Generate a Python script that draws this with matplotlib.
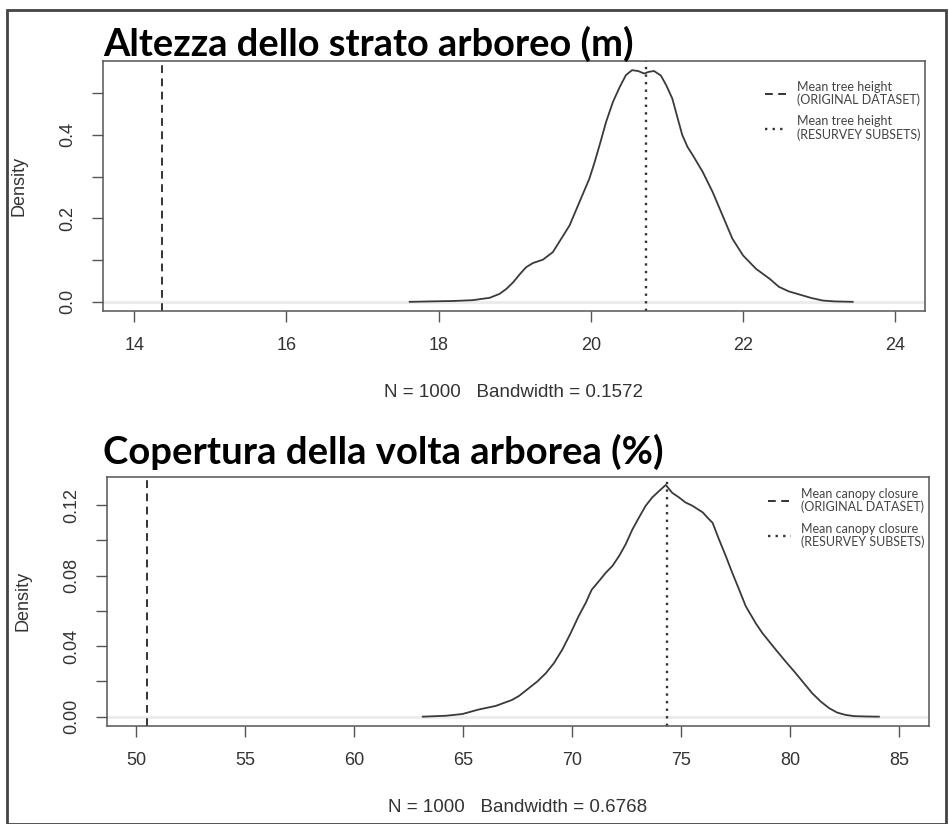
import numpy as np
import matplotlib
matplotlib.use("Agg")
import matplotlib.pyplot as plt
from matplotlib.patches import Rectangle

# ------------------------------------------------------------
# Data (kernel density curves, N = 1000)
# ------------------------------------------------------------

height_x = [17.62, 17.9, 18.2, 18.45, 18.67, 18.8, 18.89, 18.98, 19.07, 19.15,
            19.24, 19.37, 19.5, 19.61, 19.72, 19.85, 19.98, 20.05, 20.12, 20.2,
            20.29, 20.38, 20.46, 20.54, 20.62, 20.7, 20.76, 20.83, 20.92, 20.99,
            21.07, 21.14, 21.2, 21.27, 21.34, 21.47, 21.6, 21.73, 21.86, 22.0,
            22.17, 22.35, 22.47, 22.6, 22.75, 22.9, 23.05, 23.2, 23.44]
height_d = [0.000, 0.001, 0.002, 0.004, 0.0096, 0.019, 0.031, 0.047, 0.067, 0.083,
            0.093, 0.101, 0.119, 0.151, 0.183, 0.239, 0.295, 0.335, 0.379, 0.431,
            0.479, 0.515, 0.543, 0.555, 0.553, 0.547, 0.551, 0.553, 0.542, 0.519,
            0.487, 0.440, 0.400, 0.371, 0.351, 0.311, 0.263, 0.207, 0.151, 0.111,
            0.079, 0.055, 0.036, 0.025, 0.017, 0.009, 0.003, 0.001, 0.000]

canopy_x = [63.15, 64.2, 64.97, 65.7, 66.5, 67.25, 67.57, 68.0, 68.41, 68.8,
            69.17, 69.55, 69.94, 70.3, 70.63, 70.9, 71.24, 71.55, 71.85, 72.15,
            72.46, 72.76, 73.07, 73.38, 73.68, 73.99, 74.3, 74.6, 74.91, 75.2,
            75.52, 76.0, 76.21, 76.45, 76.74, 77.06, 77.35, 77.67, 77.97, 78.43,
            78.73, 79.35, 79.8, 80.26, 80.64, 81.02, 81.41, 81.8, 82.17, 82.55,
            82.94, 83.5, 84.08]
canopy_d = [0.000, 0.0005, 0.0015, 0.004, 0.0061, 0.0095, 0.0118, 0.016, 0.020, 0.0247,
            0.0304, 0.038, 0.0475, 0.057, 0.0646, 0.072, 0.077, 0.0817, 0.0855, 0.091,
            0.0978, 0.106, 0.113, 0.1197, 0.1244, 0.128, 0.1315, 0.127, 0.1244, 0.1216,
            0.1197, 0.1159, 0.113, 0.110, 0.1007, 0.091, 0.0817, 0.072, 0.0627, 0.053,
            0.0475, 0.038, 0.0313, 0.0247, 0.019, 0.0133, 0.0086, 0.0048, 0.0023, 0.001,
            0.0003, 0.0001, 0.000]

height_mean_orig = 14.37
height_mean_resurvey = 20.72
canopy_mean_orig = 50.49
canopy_mean_resurvey = 74.38

titles = ["Altezza dello strato arboreo (m)", "Copertura della volta arborea (%)"]
xlabels = ["N = 1000   Bandwidth = 0.1572", "N = 1000   Bandwidth = 0.6768"]
legend_labels = [
    ["Mean tree height\n(ORIGINAL DATASET)", "Mean tree height\n(RESURVEY SUBSETS)"],
    ["Mean canopy closure\n(ORIGINAL DATASET)", "Mean canopy closure\n(RESURVEY SUBSETS)"],
]

# ------------------------------------------------------------
# Figure (pixel layout, 949 x 824)
# ------------------------------------------------------------

W, H = 949, 824
fig = plt.figure(figsize=(W / 100, H / 100), dpi=100)
fig.patch.set_facecolor("white")

INK = "#333333"
R_FONT = "Liberation Sans"
T_FONT = "Lato"


def px_axes(left, top, right, bottom):
    return fig.add_axes([left / W, 1 - bottom / H, (right - left) / W, (bottom - top) / H])


def draw_panel(ax, xs, ds, m_orig, m_res, xlim, ylim, xticks, ymaj, ymin, yfmt,
               labels, leg_anchor):
    ax.axhline(0, color="#ececec", lw=2.2, zorder=0)
    ax.plot(xs, ds, color="#3a3a3a", lw=1.3, zorder=3)
    l1 = ax.axvline(m_orig, color=INK, lw=1.4, ls=(0, (4, 2.8)), zorder=2)
    l2 = ax.axvline(m_res, color=INK, lw=1.7, ls=(0, (1, 2.2)), zorder=2)
    ax.set_xlim(*xlim)
    ax.set_ylim(*ylim)
    ax.set_xticks(xticks)
    ax.set_xticklabels([str(t) for t in xticks])
    ax.set_yticks(ymaj)
    ax.set_yticklabels([yfmt.format(t) for t in ymaj], rotation=90, va="center")
    ax.set_yticks(ymin, minor=True)
    ax.tick_params(axis="both", which="both", direction="out", length=8, width=1,
                   color="#555555", labelsize=13, labelcolor=INK, pad=11)
    for lab in ax.get_xticklabels() + ax.get_yticklabels():
        lab.set_fontfamily(R_FONT)
    for sp in ax.spines.values():
        sp.set_color("#555555")
        sp.set_linewidth(1.1)
    leg = ax.legend([l1, l2], labels, loc="upper right", bbox_to_anchor=leg_anchor,
                    frameon=False, handlelength=1.8, handletextpad=0.8,
                    labelspacing=0.75, borderpad=0, borderaxespad=0,
                    prop={"family": T_FONT, "size": 9})
    for t in leg.get_texts():
        t.set_color("#444444")
        t.set_linespacing(1.05)


ax1 = px_axes(103, 61, 925, 311)
draw_panel(ax1, height_x, height_d, height_mean_orig, height_mean_resurvey,
           (13.59, 24.39), (-0.022, 0.577), [14, 16, 18, 20, 22, 24],
           [0.0, 0.2, 0.4], [0.1, 0.3, 0.5], "{:.1f}", legend_labels[0],
           (0.995, 0.92))

ax2 = px_axes(107, 477, 929, 726)
draw_panel(ax2, canopy_x, canopy_d, canopy_mean_orig, canopy_mean_resurvey,
           (48.66, 86.38), (-0.0053, 0.136), [50, 55, 60, 65, 70, 75, 80, 85],
           [0.0, 0.04, 0.08, 0.12], [0.02, 0.06, 0.10], "{:.2f}", legend_labels[1],
           (0.994, 0.955))

# y-axis titles and bottom captions
for ycen, xcen in [(186, 19), (601, 23)]:
    fig.text(xcen / W, 1 - ycen / H, "Density", rotation=90, ha="center", va="center",
             fontsize=13, color=INK, family=R_FONT)
for (l, r), ycap, txt in [((103, 925), 393, xlabels[0]), ((107, 929), 808, xlabels[1])]:
    fig.text((l + r) / 2 / W, 1 - ycap / H, txt, ha="center", va="center",
             fontsize=13.5, color=INK, family=R_FONT)

# big bold titles, fitted to their width in the reference
renderer = fig.canvas.get_renderer()
for txt, x0, x1, base in [(titles[0], 103, 633, 56), (titles[1], 103, 663, 464)]:
    t = fig.text(x0 / W, 1 - base / H, txt, ha="left", va="baseline",
                 fontsize=26, fontweight="bold", family=T_FONT, color="black")
    w = t.get_window_extent(renderer).width
    t.set_fontsize(26 * (x1 - x0) / w)

# outer frame
fig.patches.append(Rectangle((7 / W, 0), (946 - 7) / W, 1 - 10 / H, transform=fig.transFigure,
                             fill=False, edgecolor="#444444", lw=2))

fig.savefig("out.png", dpi=100)
